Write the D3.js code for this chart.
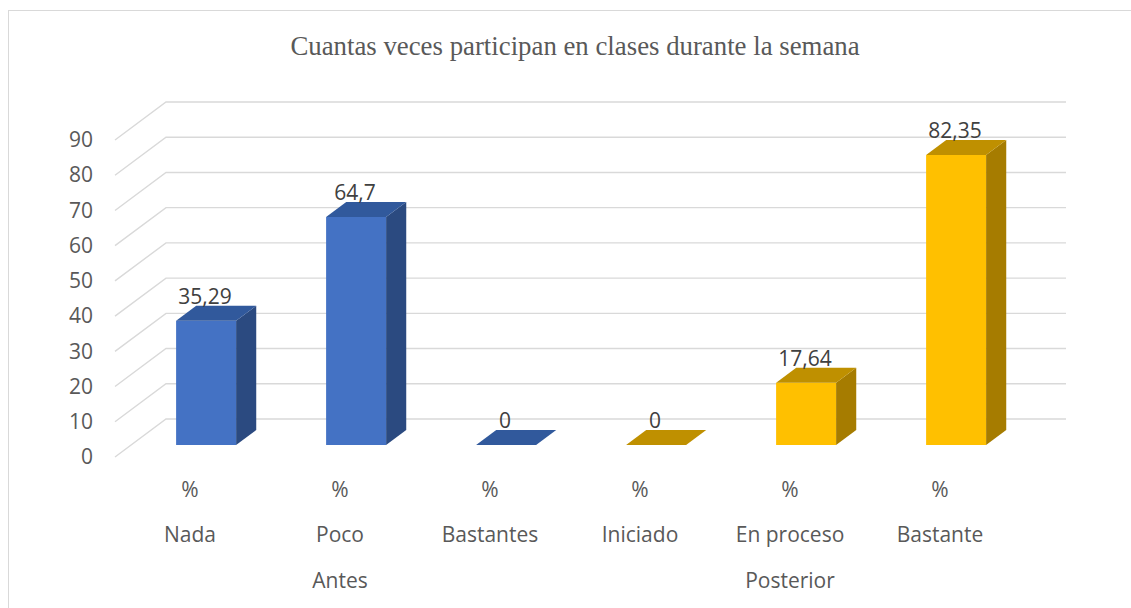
<!DOCTYPE html>
<html>
<head>
<meta charset="utf-8">
<script src="https://cdn.jsdelivr.net/npm/d3@7"></script>
<style>
    body { margin: 0; background: #fff; }
    svg { display: block; }
    .tick text { font-family: "Open Sans", sans-serif; }
</style>
</head>
<body>
<div id="chart"></div>
<script>
const WIDTH = 1131,
    HEIGHT = 608;

const title = "Cuantas veces participan en clases durante la semana";
const categories = ["Nada", "Poco", "Bastantes", "Iniciado", "En proceso", "Bastante"];
const groupOf = ["Antes", "Antes", "Antes", "Posterior", "Posterior", "Posterior"];
const groupNames = ["Antes", "Posterior"];
const units = ["%", "%", "%", "%", "%", "%"];
const values = [35.29, 64.7, 0, 0, 17.64, 82.35];
const yTicks = [0, 10, 20, 30, 40, 50, 60, 70, 80, 90];

// front plane of the 3d box
const plot = { left: 115, right: 1015, top: 140, bottom: 457 };
const depth = { dx: 51, dy: -38 };   // floor depth to back wall
const barFront = 12 / 38, barBack = 27 / 38;

const faceColors = {
    Antes: { front: "#4472c4", side: "#2b4a80", top: "#31599c" },
    Posterior: { front: "#ffc000", side: "#a67c00", top: "#bf9000" }
};

const fontSize = 21;

const svg = d3.select("#chart")
    .append("svg")
    .attr("width", WIDTH)
    .attr("height", HEIGHT);

// outer border
svg.append("rect")
    .attr("x", 8.5).attr("y", 10.5)
    .attr("width", WIDTH).attr("height", HEIGHT)
    .attr("fill", "none")
    .attr("stroke", "#d9d9d9")
    .attr("stroke-width", 1);

svg.append("text")
    .attr("x", 575).attr("y", 55)
    .attr("text-anchor", "middle")
    .attr("font-family", "'Liberation Serif', 'Times New Roman', serif")
    .attr("font-size", 26.8)
    .attr("fill", "#595959")
    .text(title);

const x = d3.scaleBand()
    .domain(categories)
    .range([plot.left, plot.right])
    .paddingInner(0.6)
    .paddingOuter(0.3);

const y = d3.scaleLinear()
    .domain([0, 90])
    .range([plot.bottom, plot.top]);

// gridlines: side wall diagonal + back wall
const grid = svg.append("g")
    .attr("fill", "none")
    .attr("stroke", "#d9d9d9")
    .attr("stroke-width", 1.4);

grid.selectAll("path")
    .data(yTicks)
    .join("path")
    .attr("d", t => `M${plot.left},${y(t)} L${plot.left + depth.dx},${y(t) + depth.dy} H${plot.right + depth.dx}`);

// y axis labels
const yAxis = svg.append("g")
    .attr("transform", `translate(${plot.left}, 0)`)
    .call(d3.axisLeft(y).tickValues(yTicks).tickSize(0).tickPadding(22));

yAxis.select(".domain").remove();
yAxis.selectAll("text")
    .attr("font-size", fontSize)
    .attr("fill", "#595959");

// bars
const bars = svg.append("g")
    .selectAll("g")
    .data(categories)
    .join("g");

bars.each(function (c, i) {
    const g = d3.select(this);
    const col = faceColors[groupOf[i]];
    const fx = barFront * depth.dx, fy = barFront * depth.dy;
    const bx = barBack * depth.dx, by = barBack * depth.dy;
    const x0 = x(c), x1 = x(c) + x.bandwidth();
    const y0 = y(0), y1 = y(values[i]);

    const pts = a => a.map(p => p.join(",")).join(" ");

    g.append("polygon")
        .attr("fill", col.front)
        .attr("points", pts([[x0 + fx, y0 + fy], [x1 + fx, y0 + fy], [x1 + fx, y1 + fy], [x0 + fx, y1 + fy]]));

    g.append("polygon")
        .attr("fill", col.side)
        .attr("points", pts([[x1 + fx, y0 + fy], [x1 + bx, y0 + by], [x1 + bx, y1 + by], [x1 + fx, y1 + fy]]));

    g.append("polygon")
        .attr("fill", col.top)
        .attr("points", pts([[x0 + fx, y1 + fy], [x1 + fx, y1 + fy], [x1 + bx, y1 + by], [x0 + bx, y1 + by]]));

    g.append("text")
        .attr("x", x0 + x.bandwidth() / 2 + fx - 1)
        .attr("y", y1 + by - 2)
        .attr("text-anchor", "middle")
        .attr("font-family", "'Open Sans', sans-serif")
        .attr("font-size", fontSize)
        .attr("fill", "#404040")
        .text(String(values[i]).replace(".", ","));
});

// category labels (three rows)
const labelFont = "'Open Sans', sans-serif";
const cx = c => x(c) + x.bandwidth() / 2;

svg.append("g")
    .selectAll("text")
    .data(categories)
    .join("text")
    .attr("x", cx)
    .attr("y", 497)
    .attr("text-anchor", "middle")
    .attr("font-family", labelFont)
    .attr("font-size", fontSize)
    .attr("fill", "#595959")
    .text((c, i) => units[i]);

svg.append("g")
    .selectAll("text")
    .data(categories)
    .join("text")
    .attr("x", cx)
    .attr("y", 542)
    .attr("text-anchor", "middle")
    .attr("font-family", labelFont)
    .attr("font-size", fontSize)
    .attr("fill", "#595959")
    .text(c => c);

svg.append("g")
    .selectAll("text")
    .data(groupNames)
    .join("text")
    .attr("x", gname => d3.mean(categories.filter((c, i) => groupOf[i] === gname), cx))
    .attr("y", 588)
    .attr("text-anchor", "middle")
    .attr("font-family", labelFont)
    .attr("font-size", fontSize)
    .attr("fill", "#595959")
    .text(gname => gname);
</script>
</body>
</html>
